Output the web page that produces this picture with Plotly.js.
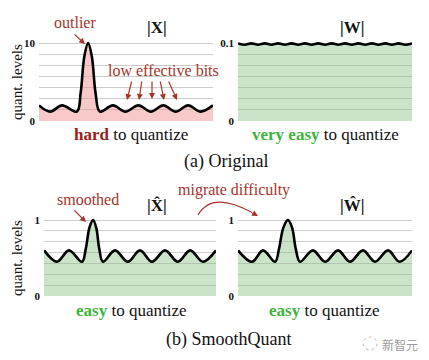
<!DOCTYPE html>
<html><head><meta charset="utf-8">
<script src="https://cdn.plot.ly/plotly-3.0.1.min.js"></script>
<style>html,body{margin:0;padding:0;background:#fff}#c{width:429px;height:360px}</style>
</head><body><div id="c"></div>
<script>
// ---- data ----
// (a) Original |X| : activation magnitudes (quant. levels 0..10)
const xX = [0, 0.9, 1.85, 3.05, 3.35, 3.65, 3.95, 4.25, 4.55, 4.9, 5.95, 6.95, 8, 9, 10, 11, 12, 13, 14];
const yX = [2.0, 1.2, 2.0, 1.2, 3.6, 8.3, 10, 8.3, 3.6, 1.2, 2.0, 1.2, 2.0, 1.2, 2.0, 1.2, 2.0, 1.2, 2.0];
// (a) Original |W| : weight magnitudes (0..0.1)
const xW = [0,1,2,3,4,5,6,7,8,9,10,11,12,13,14,15,16,17,18,19,20,21,22,23,24,25,26];
const yW = [0.0995,0.0978,0.0995,0.0978,0.0995,0.0978,0.0995,0.0978,0.0995,0.0978,0.0995,0.0978,0.0995,0.0978,0.0995,0.0978,0.0995,0.0978,0.0995,0.0978,0.0995,0.0978,0.0995,0.0978,0.0995,0.0978,0.0995];
// (b) SmoothQuant |X^| (0..1)
const xXh = [0, 1.06, 2.03, 3.09, 3.4, 3.7, 3.99, 4.25, 4.5, 4.8, 5.78, 6.83, 7.81, 8.79, 9.85, 10.9, 11.9, 12.94, 14];
const yXh = [0.6, 0.45, 0.6, 0.45, 0.62, 0.9, 1.0, 0.9, 0.62, 0.45, 0.6, 0.45, 0.6, 0.45, 0.6, 0.45, 0.6, 0.45, 0.6];
// (b) SmoothQuant |W^| (0..1)
const xWh = [0, 1.13, 2.01, 2.98, 3.3, 3.65, 4.02, 4.35, 4.65, 4.99, 6.03, 7.0, 8.05, 9.0, 10.06, 11.02, 12.07, 13.0, 14];
const yWh = [0.6, 0.45, 0.6, 0.45, 0.62, 0.9, 1.0, 0.9, 0.62, 0.45, 0.6, 0.45, 0.6, 0.45, 0.6, 0.45, 0.6, 0.45, 0.6];
// tick labels
const topLeftTicks = ['0', '10'];
const topRightTicks = ['0', '0.1'];
const bottomTicks = ['0', '1'];

// ---- layout helpers ----
const W = 429, H = 360;
const px = x => x / W;
const py = y => 1 - y / H;
const SERIF = 'Liberation Serif';
const RED = '#a8342a';
const DRED = '#9c1c1c';
const GREEN = '#3cb43c';
const PINK = 'rgba(242,148,148,0.5)';
const GFILL = 'rgba(140,195,135,0.45)';

function grid(maxv, n) { const v = []; for (let k = 0; k <= n; k++) v.push(maxv * k / n); return v; }
function yaxis(maxv, labels, top, bottom) {
  const vals = grid(maxv, 7);
  const txt = vals.map((v, i) => i === 0 ? labels[0] : (i === 7 ? labels[1] : ''));
  const span = bottom - top;
  const ext = maxv * 2.5 / span; // small headroom so the peak line isn't clipped
  return {
    domain: [py(bottom), py(top - 2.5)], range: [0, maxv + ext],
    tickvals: vals, ticktext: txt, showgrid: true, gridcolor: '#cccccc', gridwidth: 1,
    zeroline: false, showline: false, ticks: '', ticklabelstandoff: 3,
    tickfont: {family: SERIF, size: 11, color: '#111', weight: 'bold'}, fixedrange: true
  };
}
function xaxis(l, r, maxx) {
  return {domain: [px(l), px(r)], range: [0, maxx], showgrid: false, zeroline: false,
          showticklabels: false, ticks: '', showline: false, fixedrange: true};
}
function tr(x, y, xa, ya, fill) {
  return {x, y, xaxis: xa, yaxis: ya, type: 'scatter', mode: 'lines',
          line: {color: '#000', width: 2.6, shape: 'spline', smoothing: 1},
          fill: 'tozeroy', fillcolor: fill, hoverinfo: 'skip'};
}

const data = [
  tr(xX, yX, 'x', 'y', PINK),
  tr(xW, yW, 'x2', 'y2', GFILL),
  tr(xXh, yXh, 'x3', 'y3', GFILL),
  tr(xWh, yWh, 'x4', 'y4', GFILL)
];

function txt(x, y, text, size, color, extra) {
  return Object.assign({xref: 'paper', yref: 'paper', x: px(x), y: py(y), text, showarrow: false,
    xanchor: 'center', yanchor: 'middle', font: {family: SERIF, size, color}}, extra || {});
}
function arr(x, y, ax, ay) {
  return {xref: 'paper', yref: 'paper', x: px(x), y: py(y), ax, ay, text: '', showarrow: true,
          arrowhead: 2, arrowsize: 1, arrowwidth: 1.2, arrowcolor: RED};
}

const annotations = [
  txt(75, 22, 'outlier', 16, RED),
  txt(157, 28, '<b>|X|</b>', 17, '#111'),
  txt(163, 71, 'low effective bits', 16, RED),
  txt(352, 28, '<b>|W|</b>', 17, '#111'),
  txt(17, 82, 'quant. levels', 15, '#111', {textangle: -90}),
  txt(131, 134, "<span style='color:" + DRED + "'><b>hard</b></span> to quantize", 17, '#111'),
  txt(325, 134, "<span style='color:" + GREEN + "'><b>very easy</b></span> to quantize", 17, '#111'),
  txt(226, 161, '(a) Original', 18, '#111'),
  txt(88, 199, 'smoothed', 16, RED),
  txt(157, 205, '<b>|X\u0302|</b>', 17, '#111'),
  txt(234, 190, 'migrate difficulty', 16, RED),
  txt(352, 205, '<b>|W\u0302|</b>', 17, '#111'),
  txt(17, 258, 'quant. levels', 15, '#111', {textangle: -90}),
  txt(131, 310, "<span style='color:" + GREEN + "'><b>easy</b></span> to quantize", 17, '#111'),
  txt(324, 310, "<span style='color:" + GREEN + "'><b>easy</b></span> to quantize", 17, '#111'),
  txt(229, 339, '(b) SmoothQuant', 18, '#111'),
  txt(400, 344, '新智元', 12, '#9a9a9a', {font: {family: 'Noto Sans CJK SC', size: 12, color: '#9a9a9a'}}),
  arr(85, 44, -12, -11),
  arr(127, 100, 5, -20),
  arr(139, 100, 3, -20),
  arr(152, 99, 0, -19),
  arr(164, 100, -4, -20),
  arr(177, 100, -9, -20),
  arr(86, 222, -13, -13),
  arr(258, 216, -7, -4)
];

const shapes = [
  {type: 'path', xref: 'paper', yref: 'paper',
   path: 'M ' + px(198) + ',' + py(215) + ' Q ' + px(212) + ',' + py(190.5) + ' ' + px(252) + ',' + py(212.5),
   line: {color: RED, width: 1.2}},
  {type: 'circle', xref: 'paper', yref: 'paper', x0: px(363), x1: px(377), y0: py(350), y1: py(337),
   line: {color: '#bbbbbb', width: 1, dash: 'dot'}}
];

const layout = {
  width: W, height: H, margin: {l: 0, r: 0, t: 0, b: 0},
  paper_bgcolor: '#fff', plot_bgcolor: 'rgba(0,0,0,0)', showlegend: false,
  font: {family: SERIF},
  xaxis: xaxis(39, 213, 14), yaxis: yaxis(10, topLeftTicks, 43, 121),
  xaxis2: xaxis(238, 412, 26), yaxis2: Object.assign(yaxis(0.1, topRightTicks, 43, 121), {anchor: 'x2'}),
  xaxis3: xaxis(44, 216, 14), yaxis3: Object.assign(yaxis(1, bottomTicks, 220, 296), {anchor: 'x3'}),
  xaxis4: xaxis(238, 412, 14), yaxis4: Object.assign(yaxis(1, bottomTicks, 220, 296), {anchor: 'x4'}),
  annotations, shapes
};
layout.xaxis.anchor = 'y'; layout.xaxis2.anchor = 'y2'; layout.xaxis3.anchor = 'y3'; layout.xaxis4.anchor = 'y4';
layout.yaxis.anchor = 'x';

Plotly.newPlot('c', data, layout, {staticPlot: true, displayModeBar: false});
</script>
</body></html>
